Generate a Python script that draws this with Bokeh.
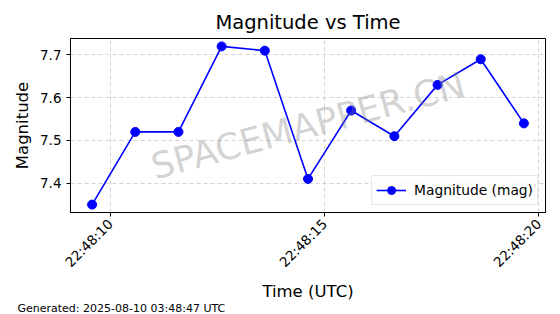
import math
from datetime import datetime
from bokeh.plotting import figure
from bokeh.models import (Range1d, FixedTicker, DatetimeTickFormatter, Label, Legend, LegendItem,
                          ColumnDataSource, Title)
from bokeh.embed import file_html
from bokeh.resources import INLINE

# data
times = ["22:48:09.575", "22:48:10.583", "22:48:11.591", "22:48:12.599", "22:48:13.607",
         "22:48:14.615", "22:48:15.623", "22:48:16.631", "22:48:17.639", "22:48:18.647",
         "22:48:19.655"]
magnitudes = [7.35, 7.52, 7.52, 7.72, 7.71, 7.41, 7.57, 7.51, 7.63, 7.69, 7.54]
x_tick_labels = ["22:48:10", "22:48:15", "22:48:20"]
y_ticks = [7.4, 7.5, 7.6, 7.7]
footer = "Generated: 2025-08-10 03:48:47 UTC"
watermark = "SPACEMAPPER.CN"

DAY = "2025-08-09 "
xs = [datetime.strptime(DAY + t, "%Y-%m-%d %H:%M:%S.%f") for t in times]
tick_dt = [datetime.strptime(DAY + t, "%Y-%m-%d %H:%M:%S") for t in x_tick_labels]
EPOCH = datetime(1970, 1, 1)
def ms(d):
    return (d - EPOCH).total_seconds() * 1000.0

span = ms(xs[-1]) - ms(xs[0])
x0 = ms(xs[0]) - 0.05 * span
x1 = ms(xs[-1]) + 0.05 * span
ymin, ymax = min(magnitudes), max(magnitudes)
yspan = ymax - ymin
y0 = ymin - 0.05 * yspan
y1 = ymax + 0.05 * yspan

FONT = "DejaVu Sans"
p = figure(width=560, height=314, output_backend="svg", toolbar_location=None,
           x_axis_type="datetime", x_range=Range1d(x0, x1), y_range=Range1d(y0, y1),
           title="Magnitude vs Time")
p.min_border_left = 70
p.min_border_right = 15
p.min_border_top = 38
p.min_border_bottom = 102
p.border_fill_color = "white"
p.outline_line_color = "black"
p.outline_line_width = 1

p.title.align = "center"
p.title.text_font = FONT
p.title.text_font_size = "19.5px"
p.title.text_font_style = "normal"
p.title.text_color = "black"

src = ColumnDataSource(dict(x=xs, y=magnitudes))
r1 = p.line("x", "y", source=src, line_color="#0000ff", line_width=1.6)
r2 = p.scatter("x", "y", source=src, size=9, fill_color="#0000ff", line_color="#0000ff")

p.xaxis.ticker = FixedTicker(ticks=[ms(d) for d in tick_dt])
p.xaxis.formatter = DatetimeTickFormatter(seconds="%H:%M:%S", milliseconds="%H:%M:%S",
                                          minsec="%H:%M:%S", minutes="%H:%M:%S")
p.xaxis.major_label_orientation = math.pi / 4
p.yaxis.ticker = FixedTicker(ticks=y_ticks)
p.xaxis.axis_label = "Time (UTC)"
p.yaxis.axis_label = "Magnitude"
p.xaxis.axis_label_standoff = 3
for ax in (p.xaxis, p.yaxis):
    ax.axis_label_text_font = FONT
    ax.axis_label_text_font_size = "16.5px"
    ax.axis_label_text_font_style = "normal"
    ax.axis_label_text_color = "black"
    ax.major_label_text_font = FONT
    ax.major_label_text_font_size = "13.5px"
    ax.major_label_text_color = "black"
    ax.minor_tick_line_color = None
    ax.major_tick_out = 4
    ax.major_tick_in = 0
    ax.axis_line_color = "black"

p.grid.grid_line_color = "#c8c8c8"
p.grid.grid_line_dash = "4 3"
p.grid.grid_line_width = 0.8

wm = Label(x=(x0 + x1) / 2, y=(y0 + y1) / 2, text=watermark, text_align="center",
           text_baseline="middle", angle=15, angle_units="deg", text_font=FONT,
           text_font_size="36px", text_color="gray", text_alpha=0.35)
p.add_layout(wm)

legend = Legend(items=[LegendItem(label="Magnitude (mag)", renderers=[r1, r2])],
                location="bottom_right", label_text_font=FONT, label_text_font_size="13.8px",
                label_text_color="black",
                border_line_color="#d0d0d0", background_fill_alpha=0.8,
                padding=4, spacing=0, margin=7, glyph_width=30, label_standoff=8)
p.add_layout(legend)

foot = Title(text=footer, align="left", offset=-53, text_font=FONT, text_font_size="11px",
             text_font_style="normal", text_color="black", standoff=-4,
             vertical_align="top")
p.add_layout(foot, "below")

open("out.html", "w").write(file_html(p, INLINE))
